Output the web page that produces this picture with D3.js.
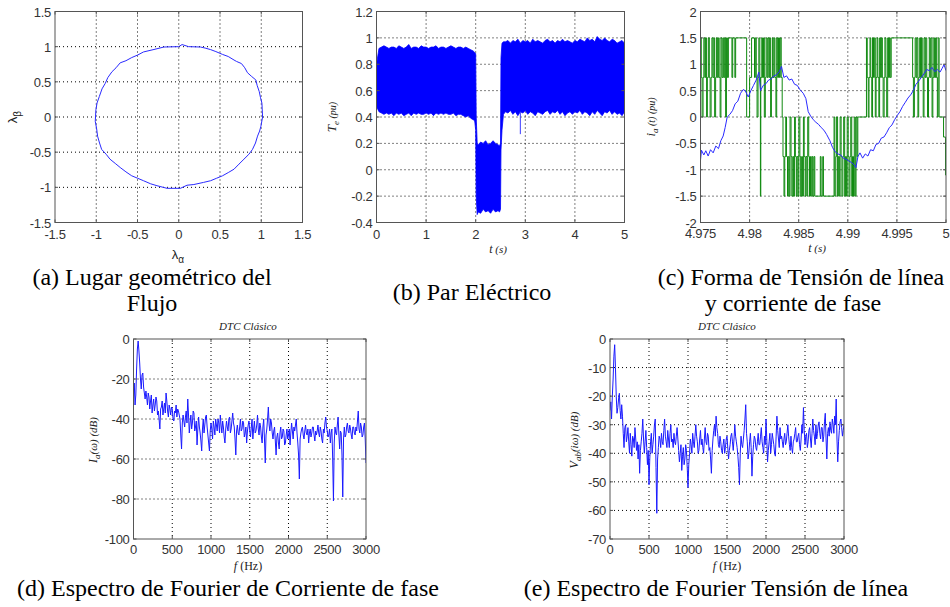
<!DOCTYPE html>
<html lang="es">
<head>
<meta charset="UTF-8">
<script src="https://cdn.jsdelivr.net/npm/d3@7"></script>
<style>
  body { margin: 0; background: #fff; }
  svg { display: block; }
  .tl { font: 13px Arial, "Liberation Sans", sans-serif; fill: #333; letter-spacing: -0.3px; }
  .cap { font: 24px "Times New Roman", "Liberation Serif", serif; fill: #000; }
  .lab { font: italic 12px "Times New Roman", "Liberation Serif", serif; fill: #222; }
  .ttl { font: italic 11px "Times New Roman", "Liberation Serif", serif; fill: #222; }
</style>
</head>
<body>
<script>
// ---------- (a) flux locus ----------
const fluxAlpha = [1.016, 1.012, 1.008, 0.99, 0.976, 0.95, 0.935, 0.88, 0.833, 0.80, 0.76, 0.70, 0.67, 0.60, 0.53, 0.45, 0.386, 0.32, 0.264, 0.12, 0.04, 0.0, -0.18, -0.30, -0.427, -0.50, -0.57, -0.64, -0.71, -0.76, -0.81, -0.86, -0.89, -0.93, -0.963, -0.99, -1.004, -1.012, -0.995, -0.984, -0.96, -0.935, -0.88, -0.833, -0.77, -0.71, -0.64, -0.57, -0.50, -0.427, -0.34, -0.264, -0.142, 0.02, 0.10, 0.183, 0.30, 0.386, 0.46, 0.53, 0.60, 0.67, 0.73, 0.79, 0.85, 0.894, 0.93, 0.955, 0.98, 0.996, 1.016];
const fluxBeta  = [0.0, 0.10, 0.197, 0.28, 0.36, 0.45, 0.526, 0.58, 0.63, 0.70, 0.76, 0.79, 0.81, 0.86, 0.89, 0.93, 0.958, 0.98, 0.995, 1.0, 1.03, 1.0, 0.995, 0.96, 0.925, 0.88, 0.845, 0.80, 0.77, 0.70, 0.643, 0.56, 0.48, 0.40, 0.29, 0.20, 0.103, -0.061, -0.17, -0.272, -0.37, -0.46, -0.53, -0.60, -0.66, -0.718, -0.78, -0.836, -0.87, -0.906, -0.95, -0.977, -1.014, -1.014, -0.97, -0.96, -0.93, -0.906, -0.87, -0.836, -0.79, -0.742, -0.67, -0.60, -0.53, -0.46, -0.37, -0.272, -0.20, -0.131, 0.0];

// ---------- (b) electric torque envelope ----------
const torqueT  = [0, 0.05, 0.1, 0.15, 0.2, 0.25, 0.3, 0.35, 0.4, 0.45, 0.5, 0.55, 0.6, 0.65, 0.7, 0.75, 0.8, 0.85, 0.9, 0.95, 1.0, 1.05, 1.1, 1.15, 1.2, 1.25, 1.3, 1.35, 1.4, 1.45, 1.5, 1.55, 1.6, 1.65, 1.7, 1.75, 1.8, 1.85, 1.9, 1.95,
  1.98, 2.0, 2.01, 2.03, 2.05, 2.1, 2.15, 2.2, 2.25, 2.3, 2.35, 2.4, 2.45, 2.48, 2.5, 2.51, 2.53, 2.56,
  2.6, 2.65, 2.7, 2.75, 2.8, 2.85, 2.9, 2.95, 3.0, 3.05, 3.1, 3.15, 3.2, 3.25, 3.3, 3.35, 3.4, 3.45, 3.5, 3.55, 3.6, 3.65, 3.7, 3.75, 3.8, 3.85, 3.9, 3.95, 4.0, 4.05, 4.1, 4.15, 4.2, 4.25, 4.3, 4.35, 4.4, 4.45, 4.5, 4.55, 4.6, 4.65, 4.7, 4.75, 4.8, 4.85, 4.9, 4.95, 5.0];
const torqueHi = [0.80, 0.92, 0.93, 0.94, 0.93, 0.92, 0.93, 0.93, 0.92, 0.94, 0.93, 0.92, 0.93, 0.95, 0.92, 0.93, 0.93, 0.92, 0.94, 0.93, 0.93, 0.92, 0.93, 0.93, 0.94, 0.92, 0.93, 0.93, 0.92, 0.93, 0.94, 0.93, 0.92, 0.93, 0.93, 0.92, 0.93, 0.92, 0.91, 0.90,
  0.89, 0.88, 0.40, 0.20, 0.19, 0.21, 0.20, 0.22, 0.19, 0.20, 0.22, 0.20, 0.19, 0.18, 0.20, 0.85, 0.96, 0.97,
  0.97, 0.98, 0.96, 0.98, 0.97, 0.99, 0.96, 0.98, 0.97, 0.98, 0.96, 0.99, 0.97, 0.98, 0.97, 0.96, 0.98, 0.99, 0.97, 0.98, 0.96, 0.98, 0.97, 0.99, 0.97, 0.98, 0.97, 0.96, 0.98, 0.97, 0.99, 0.98, 0.97, 1.0, 0.98, 0.99, 0.97, 1.01, 0.99, 0.98, 1.0, 0.98, 0.97, 0.99, 0.98, 0.96, 0.97, 0.98, 0.96];
const torqueLo = [0.48, 0.44, 0.43, 0.42, 0.43, 0.42, 0.43, 0.41, 0.43, 0.42, 0.43, 0.41, 0.42, 0.43, 0.41, 0.43, 0.42, 0.43, 0.42, 0.42, 0.43, 0.42, 0.43, 0.41, 0.43, 0.42, 0.43, 0.42, 0.43, 0.42, 0.42, 0.43, 0.41, 0.42, 0.42, 0.41, 0.40, 0.41, 0.39, 0.38,
  0.37, 0.30, -0.20, -0.34, -0.32, -0.33, -0.30, -0.32, -0.31, -0.33, -0.30, -0.32, -0.31, -0.32, -0.30, 0.15, 0.30, 0.42,
  0.44, 0.43, 0.45, 0.42, 0.44, 0.41, 0.44, 0.43, 0.45, 0.42, 0.44, 0.43, 0.41, 0.44, 0.43, 0.42, 0.44, 0.45, 0.42, 0.44, 0.43, 0.45, 0.42, 0.44, 0.41, 0.43, 0.44, 0.42, 0.44, 0.43, 0.45, 0.42, 0.44, 0.43, 0.41, 0.44, 0.42, 0.45, 0.43, 0.41, 0.44, 0.43, 0.45, 0.42, 0.44, 0.42, 0.43, 0.41, 0.44];
const torqueSpikeT = [2.9];
const torqueSpikeV = [0.27];

// ---------- (c) phase current and line voltage ----------
const curT = [4.975, 4.9751, 4.97534, 4.97554, 4.97578, 4.97602, 4.97629, 4.97656, 4.97683, 4.97707, 4.97731, 4.97751, 4.97772, 4.97799, 4.97826, 4.97853, 4.9788, 4.97908, 4.97935, 4.97955, 4.97986, 4.98013, 4.9804, 4.98067, 4.98094, 4.98111, 4.98139, 4.98166, 4.98193, 4.9822, 4.98247, 4.98274, 4.98302, 4.98325, 4.98349, 4.98376, 4.98403, 4.9843, 4.98458, 4.98485, 4.98512, 4.98546, 4.98573, 4.98597, 4.98621, 4.98648, 4.98675, 4.98702, 4.98729, 4.98757, 4.98784, 4.98818, 4.98845, 4.98872, 4.98899, 4.98927, 4.98954, 4.98981, 4.99008, 4.99035, 4.99062, 4.99083, 4.99103, 4.99124, 4.99151, 4.99178, 4.99205, 4.99232, 4.9926, 4.99287, 4.99314, 4.99341, 4.99368, 4.99395, 4.99423, 4.9945, 4.99477, 4.99504, 4.99531, 4.99558, 4.99586, 4.99613, 4.9964, 4.99667, 4.99694, 4.99721, 4.99749, 4.99776, 4.99803, 4.9983, 4.99857, 4.99885, 4.99912, 4.99939, 4.9996, 4.9998, 5.0];
const curV = [-0.82, -0.63, -0.72, -0.64, -0.74, -0.62, -0.68, -0.55, -0.6, -0.45, -0.36, -0.2, 0.0, 0.05, 0.12, 0.25, 0.3, 0.45, 0.52, 0.5, 0.38, 0.5, 0.6, 0.7, 0.85, 0.5, 0.6, 0.63, 0.7, 0.72, 0.78, 0.8, 0.86, 0.96, 0.75, 0.78, 0.7, 0.72, 0.62, 0.6, 0.52, 0.45, 0.35, 0.1, 0.02, -0.05, -0.1, -0.14, -0.2, -0.25, -0.33, -0.45, -0.58, -0.66, -0.7, -0.72, -0.78, -0.8, -0.83, -0.86, -0.9, -0.96, -0.75, -0.68, -0.78, -0.7, -0.74, -0.62, -0.64, -0.52, -0.5, -0.4, -0.38, -0.3, -0.2, -0.15, -0.05, 0.03, 0.1, 0.2, 0.28, 0.36, 0.42, 0.5, 0.62, 0.68, 0.75, 0.82, 0.9, 0.88, 0.94, 0.86, 0.9, 0.85, 0.92, 0.99, 0.88];
const voltT = [4.975, 4.97508, 4.97516, 4.97526, 4.97534, 4.97544, 4.97552, 4.97562, 4.9757, 4.9758, 4.9759, 4.97598, 4.97608, 4.97616, 4.97626, 4.97636, 4.97644, 4.97654, 4.97662, 4.97672, 4.97682, 4.9769, 4.977, 4.97708, 4.97718, 4.97728, 4.97736, 4.97746, 4.97756, 4.97764, 4.97774, 4.97784,
  4.9782, 4.97828, 4.9785, 4.97858, 4.9797, 4.98, 4.9802,
  4.9805, 4.98058, 4.98068, 4.98076, 4.98086, 4.98094, 4.98104, 4.9811, 4.98114, 4.98124, 4.98132, 4.98142, 4.9815, 4.9816, 4.98168, 4.98178, 4.98186, 4.98196, 4.98204, 4.98214, 4.98222, 4.98232, 4.9824, 4.9825, 4.98258, 4.98268, 4.98276, 4.98286, 4.98294, 4.98304, 4.98312, 4.98322,
  4.98332, 4.9834, 4.9835, 4.98358, 4.98368, 4.98376, 4.98386, 4.98394, 4.98404, 4.98412, 4.98422, 4.9843, 4.9844, 4.98448, 4.98458, 4.98466, 4.98476, 4.98484, 4.98494, 4.98502, 4.98512, 4.9852, 4.9853, 4.98538, 4.98548, 4.98556, 4.98566, 4.98574, 4.98584, 4.98592, 4.98602, 4.9861, 4.9862, 4.98628, 4.98638, 4.98646, 4.98656, 4.98664,
  4.9872, 4.98728, 4.98745, 4.98752,
  4.9886, 4.98868, 4.98878, 4.98886, 4.98896, 4.98904, 4.98914, 4.98922, 4.98932, 4.9894, 4.9895, 4.98958, 4.98968, 4.98976, 4.98986, 4.98994, 4.99004, 4.99012, 4.99022, 4.9903, 4.9904, 4.99048, 4.99058, 4.99066, 4.99076, 4.99084, 4.99094, 4.99102,
  4.9919, 4.99198, 4.99208, 4.99216, 4.99226, 4.99234, 4.99244, 4.99252, 4.99262, 4.9927, 4.9928, 4.99288, 4.99298, 4.99306, 4.99316, 4.99324, 4.99334, 4.99342, 4.99352, 4.9936, 4.9937, 4.99378, 4.99388, 4.99396, 4.99406, 4.99414, 4.99424, 4.99432, 4.99442,
  4.9966, 4.99668, 4.99678, 4.99686, 4.99696, 4.99704, 4.99714, 4.99722, 4.99732, 4.9974, 4.9975, 4.99758, 4.99768, 4.99776, 4.99786, 4.99794, 4.99804, 4.99812, 4.99822, 4.9983, 4.9984, 4.99848, 4.99858, 4.99866, 4.99876, 4.99884, 4.99894, 4.99902, 4.99912, 4.9992, 4.9993,
  4.99975, 4.99995, 5.0];
const voltV = [1.5, 0.75, 0, 0.75, 1.5, 0.75, 1.5, 0, 0.75, 1.5, 0.75, 0, 0.75, 1.5, 0.75, 1.5, 0, 0.75, 1.5, 0.75, 1.5, 0.75, 0, 1.5, 0.75, 1.5, 0.75, 1.5, 0, 1.5, 0.75, 1.5,
  0.75, 1.5, 0.75, 1.5, 0, 0.75, 1.5,
  0.75, 1.5, 0.75, 0, 0.75, 1.5, 0.75, -1.5, 0.75, 1.5, 0.75, 1.5, 0, 0.75, 1.5, 0.75, 1.5, 0.75, 1.5, 0, 0.75, 1.5, 0.75, 1.5, 0.75, 0, 1.5, 0.75, 1.5, 0.75, 1.5, 0.75,
  0, -0.75, -1.5, -0.75, 0, -0.75, -1.5, -0.75, -1.5, 0, -0.75, -1.5, -0.75, -1.5, 0, -0.75, -1.5, -0.75, -1.5, 0, -0.75, -1.5, -0.75, -1.5, 0, -0.75, -1.5, -0.75, -1.5, 0, -0.75, -1.5, -0.75, -1.5, -0.75, -1.5, -0.75, -1.5,
  -0.75, -1.5, -0.75, -1.5,
  0, -1.5, -0.75, 0, -1.5, -0.75, -1.5, 0, -0.75, -1.5, -0.75, 0, -1.5, -0.75, -1.5, 0, -0.75, -1.5, -0.75, 0, -1.5, -0.75, -1.5, 0, -1.5, 0, -0.75, 0,
  1.5, 0.75, 0, 0.75, 1.5, 0.75, 0, 1.5, 0.75, 1.5, 0, 0.75, 1.5, 0.75, 0, 1.5, 0.75, 1.5, 0.75, 0, 0.75, 1.5, 0.75, 0, 1.5, 0.75, 1.5, 0.75, 1.5,
  0.75, 0, 0.75, 1.5, 0.75, 1.5, 0, 0.75, 1.5, 0.75, 1.5, 0.75, 0, 1.5, 0.75, 1.5, 0.75, 0, 0.75, 1.5, 0.75, 1.5, 0, 0.75, 1.5, 0.75, 1.5, 0.75, 0, 1.5, 0,
  -0.38, -1.1, -1.1];

// ---------- (d), (e) Fourier spectra, 10 Hz bins from 0 to 3000 Hz ----------
const specCurrent = [
  -30, -22, -33, -28, -15, -5, -1, -6, -12, -20, -25, -18, -17, -24, -27, -30, -26, -29, -33, -27, -29, -35, -31, -28, -37, -33, -30, -36, -33, -29, -31, -38, -36, -40, -45, -35, -34, -31, -38, -35,
  -32, -37, -27, -31, -36, -39, -33, -35, -38, -34, -35, -40, -41, -36, -37, -33, -39, -35, -36, -38, -40, -48, -55, -42, -38, -41, -44, -39, -36, -42, -30, -38, -47, -42, -38, -45, -42, -36, -37, -46,
  -44, -41, -53, -45, -39, -44, -47, -51, -56, -45, -40, -47, -43, -39, -38, -44, -48, -52, -56, -46, -42, -45, -50, -41, -44, -48, -40, -43, -46, -40, -42, -47, -38, -43, -47, -41, -44, -49, -52, -45,
  -41, -44, -46, -40, -39, -47, -45, -41, -37, -42, -44, -50, -58, -46, -43, -47, -48, -44, -40, -46, -45, -41, -42, -49, -47, -44, -52, -46, -43, -41, -46, -49, -44, -40, -50, -45, -41, -47, -46, -43,
  -38, -45, -48, -42, -44, -49, -52, -44, -40, -50, -62, -48, -45, -40, -34, -43, -46, -40, -42, -47, -50, -46, -44, -51, -58, -49, -47, -52, -55, -47, -44, -50, -49, -45, -46, -53, -52, -48, -45, -50,
  -48, -45, -53, -47, -42, -46, -50, -44, -46, -43, -40, -47, -52, -58, -70, -50, -47, -45, -44, -48, -50, -46, -43, -47, -48, -45, -52, -47, -45, -49, -47, -44, -44, -48, -51, -46, -48, -46, -43, -47,
  -49, -44, -46, -50, -52, -45, -47, -42, -39, -44, -46, -49, -48, -45, -52, -47, -45, -60, -81, -52, -44, -47, -48, -43, -39, -48, -55, -46, -47, -58, -79, -50, -44, -49, -48, -44, -42, -46, -47, -43,
  -45, -48, -50, -44, -44, -47, -48, -44, -46, -41, -36, -45, -47, -42, -44, -49, -48, -44, -42, -50, -62];
const specVoltage = [
  -25, -22, -28, -20, -14, -6, -2, -10, -20, -26, -24, -21, -19, -25, -28, -23, -27, -33, -38, -31, -30, -36, -34, -31, -36, -40, -33, -37, -41, -34, -35, -38, -31, -35, -39, -36, -42, -37, -47, -39,
  -36, -33, -28, -35, -40, -36, -32, -38, -44, -39, -51, -42, -36, -33, -40, -37, -34, -30, -28, -45, -61, -42, -38, -34, -35, -38, -33, -36, -37, -32, -28, -34, -36, -38, -32, -35, -38, -33, -30, -36,
  -35, -38, -33, -36, -37, -34, -31, -35, -39, -43, -40, -37, -46, -41, -38, -44, -42, -37, -39, -45, -52, -44, -40, -35, -37, -40, -33, -36, -38, -34, -30, -34, -36, -40, -39, -35, -32, -37, -35, -38,
  -40, -35, -31, -36, -37, -33, -34, -39, -38, -42, -47, -39, -35, -32, -30, -34, -27, -31, -33, -37, -38, -34, -36, -39, -40, -37, -35, -40, -38, -35, -34, -38, -42, -39, -37, -34, -33, -36, -39, -35,
  -30, -34, -36, -38, -41, -45, -51, -40, -34, -37, -38, -35, -32, -28, -23, -33, -36, -42, -40, -36, -33, -38, -48, -41, -37, -34, -35, -38, -39, -36, -33, -37, -37, -34, -31, -36, -38, -40, -34, -37,
  -28, -35, -43, -39, -36, -33, -40, -37, -33, -35, -37, -40, -41, -34, -27, -32, -35, -38, -31, -35, -34, -36, -38, -35, -33, -37, -36, -33, -30, -34, -37, -39, -34, -38, -40, -36, -35, -33, -31, -36,
  -36, -34, -33, -37, -39, -35, -30, -33, -24, -32, -37, -34, -33, -38, -36, -32, -31, -35, -38, -33, -28, -32, -34, -37, -30, -35, -33, -30, -29, -33, -35, -31, -31, -36, -34, -29, -26, -35, -42, -33,
  -31, -34, -29, -32, -33, -28, -30, -33, -27, -30, -21, -35, -43, -36, -32, -29, -28, -31, -34, -32, -30];

// tick labels
const ticksA = [-1.5, -1, -0.5, 0, 0.5, 1, 1.5];
const ticksBx = [0, 1, 2, 3, 4, 5];
const ticksBy = [-0.4, -0.2, 0, 0.2, 0.4, 0.6, 0.8, 1, 1.2];
const ticksCx = [4.975, 4.98, 4.985, 4.99, 4.995, 5];
const ticksCy = [-2, -1.5, -1, -0.5, 0, 0.5, 1, 1.5, 2];
const ticksF = [0, 500, 1000, 1500, 2000, 2500, 3000];
const ticksDy = [-100, -80, -60, -40, -20, 0];
const ticksEy = [-70, -60, -50, -40, -30, -20, -10, 0];

const svg = d3.select("body").append("svg").attr("width", 950).attr("height", 607);
const defs = svg.append("defs");
let clipId = 0;

function makePanel(box, xDom, yDom, xTicks, yTicks, xLabOff) {
  const g = svg.append("g");
  const x = d3.scaleLinear().domain(xDom).range([box.x0, box.x1]);
  const y = d3.scaleLinear().domain(yDom).range([box.y1, box.y0]);

  // dotted grid
  g.selectAll(".gx").data(xTicks.slice(1, -1)).enter().append("line")
    .attr("x1", d => x(d)).attr("x2", d => x(d))
    .attr("y1", box.y0).attr("y2", box.y1)
    .attr("stroke", "#000").attr("stroke-width", 1).attr("stroke-dasharray", "1,3");
  g.selectAll(".gy").data(yTicks.slice(1, -1)).enter().append("line")
    .attr("y1", d => y(d)).attr("y2", d => y(d))
    .attr("x1", box.x0).attr("x2", box.x1)
    .attr("stroke", "#000").attr("stroke-width", 1).attr("stroke-dasharray", "1,3");

  // tick labels
  g.selectAll(".lx").data(xTicks).enter().append("text")
    .attr("class", "tl").attr("x", d => x(d)).attr("y", box.y1 + (xLabOff || 16))
    .attr("text-anchor", "middle").text(d => String(d));
  g.selectAll(".ly").data(yTicks).enter().append("text")
    .attr("class", "tl").attr("x", box.x0 - 4).attr("y", d => y(d) + 5)
    .attr("text-anchor", "end").text(d => String(d));

  const id = "clip" + (clipId++);
  defs.append("clipPath").attr("id", id).append("rect")
    .attr("x", box.x0).attr("y", box.y0)
    .attr("width", box.x1 - box.x0).attr("height", box.y1 - box.y0);
  const plot = g.append("g").attr("clip-path", `url(#${id})`);

  // box and small inward ticks, drawn on top of the data
  const frame = () => {
    const fr = svg.append("g");
    fr.append("rect").attr("x", box.x0).attr("y", box.y0)
      .attr("width", box.x1 - box.x0).attr("height", box.y1 - box.y0)
      .attr("fill", "none").attr("stroke", "#555").attr("stroke-width", 1);
    xTicks.forEach(t => {
      fr.append("line").attr("x1", x(t)).attr("x2", x(t)).attr("y1", box.y1).attr("y2", box.y1 - 3).attr("stroke", "#555");
      fr.append("line").attr("x1", x(t)).attr("x2", x(t)).attr("y1", box.y0).attr("y2", box.y0 + 3).attr("stroke", "#555");
    });
    yTicks.forEach(t => {
      fr.append("line").attr("y1", y(t)).attr("y2", y(t)).attr("x1", box.x0).attr("x2", box.x0 + 3).attr("stroke", "#555");
      fr.append("line").attr("y1", y(t)).attr("y2", y(t)).attr("x1", box.x1).attr("x2", box.x1 - 3).attr("stroke", "#555");
    });
  };
  return { g, plot, x, y, frame, box };
}

function addParts(t, parts) {
  parts.forEach(p => {
    const s = t.append("tspan").text(p.s);
    if (p.dy) s.attr("dy", p.dy);
    if (p.size) s.attr("font-size", p.size);
    if (p.style) s.attr("font-style", p.style);
    if (p.family) s.attr("font-family", p.family);
  });
  return t;
}
function rotLabel(cx, cy, parts) {
  const t = svg.append("text").attr("class", "lab")
    .attr("transform", `translate(${cx},${cy}) rotate(-90)`).attr("text-anchor", "middle");
  return addParts(t, parts);
}
function hLabel(cx, cy, parts, cls) {
  const t = svg.append("text").attr("class", cls || "lab").attr("x", cx).attr("y", cy).attr("text-anchor", "middle");
  return addParts(t, parts);
}
function caption(cx, cy, str) {
  svg.append("text").attr("class", "cap").attr("x", cx).attr("y", cy)
    .attr("text-anchor", "middle").text(str);
}
const sans = "Arial, 'Liberation Sans', sans-serif";

// ===== (a) =====
const pa = makePanel({ x0: 55, x1: 302.5, y0: 11.5, y1: 222.5 }, [-1.5, 1.5], [-1.5, 1.5], ticksA, ticksA);
pa.plot.append("path")
  .datum(d3.range(fluxAlpha.length))
  .attr("d", d3.line().x(i => pa.x(fluxAlpha[i])).y(i => pa.y(fluxBeta[i])))
  .attr("fill", "none").attr("stroke", "#2a2aff").attr("stroke-width", 1);
pa.frame();
hLabel(178, 259, [{ s: "λ", style: "normal", family: sans, size: 13 }, { s: "α", dy: 4, size: 10, style: "normal", family: sans }]);
rotLabel(17, 117, [{ s: "λ", style: "normal", family: sans, size: 13 }, { s: "β", dy: 4, size: 10, style: "normal", family: sans }]);
caption(152, 285, "(a) Lugar geométrico del");
caption(152, 311, "Flujo");

// ===== (b) =====
const pb = makePanel({ x0: 376.5, x1: 624.5, y0: 11.5, y1: 222.5 }, [0, 5], [-0.4, 1.2], ticksBx, ticksBy);
pb.plot.append("path")
  .datum(d3.range(torqueT.length))
  .attr("d", d3.area().x(i => pb.x(torqueT[i])).y0(i => pb.y(torqueLo[i])).y1(i => pb.y(torqueHi[i])))
  .attr("fill", "#0000ff").attr("stroke", "#0000ff").attr("stroke-width", 0.8);
pb.plot.selectAll(".spk").data(torqueSpikeT).enter().append("line")
  .attr("x1", d => pb.x(d)).attr("x2", d => pb.x(d))
  .attr("y1", pb.y(0.44)).attr("y2", (d, i) => pb.y(torqueSpikeV[i]))
  .attr("stroke", "#3a3aff").attr("stroke-width", 1);
pb.frame();
hLabel(498, 253, [{ s: "t" }, { s: " (s)", size: 11 }]);
rotLabel(336, 117, [{ s: "T", size: 13 }, { s: "e", dy: 3, size: 9 }, { s: " (pu)", dy: -3, size: 10 }]);
caption(472, 300, "(b) Par Eléctrico");

// ===== (c) =====
const pc = makePanel({ x0: 700.5, x1: 946, y0: 11.5, y1: 222.5 }, [4.975, 5], [-2, 2], ticksCx, ticksCy, 15);
pc.plot.append("path")
  .datum(d3.range(voltT.length))
  .attr("d", d3.line().curve(d3.curveStepAfter).x(i => pc.x(voltT[i])).y(i => pc.y(voltV[i])))
  .attr("fill", "none").attr("stroke", "#108a10").attr("stroke-width", 1);
pc.plot.append("path")
  .datum(d3.range(curT.length))
  .attr("d", d3.line().x(i => pc.x(curT[i])).y(i => pc.y(curV[i])))
  .attr("fill", "none").attr("stroke", "#2a2aff").attr("stroke-width", 1);
pc.frame();
hLabel(817, 252, [{ s: "t" }, { s: " (s)", size: 11 }]);
rotLabel(655, 117, [{ s: "i", size: 13 }, { s: "a", dy: 3, size: 9 }, { s: " (t) (pu)", dy: -3, size: 10 }]);
caption(801, 285, "(c) Forma de Tensión de línea");
caption(793, 311, "y corriente de fase");

// ===== (d) =====
const freqs = d3.range(0, 3001, 10);
const pd = makePanel({ x0: 133.5, x1: 366, y0: 339, y1: 539 }, [0, 3000], [-100, 0], ticksF, ticksDy, 15);
pd.plot.append("path")
  .datum(d3.range(specCurrent.length))
  .attr("d", d3.line().x(i => pd.x(freqs[i])).y(i => pd.y(specCurrent[i])))
  .attr("fill", "none").attr("stroke", "#1a1aff").attr("stroke-width", 1);
pd.frame();
hLabel(248, 330, [{ s: "DTC Clásico" }], "ttl");
hLabel(248, 570, [{ s: "f" }, { s: " (Hz)", style: "normal" }]);
rotLabel(97, 440, [{ s: "I", size: 12 }, { s: "a", dy: 3, size: 9 }, { s: "(ω) (dB)", dy: -3, size: 11 }]);
caption(228, 596, "(d) Espectro de Fourier de Corriente de fase");

// ===== (e) =====
const pe = makePanel({ x0: 610, x1: 844, y0: 339, y1: 539 }, [0, 3000], [-70, 0], ticksF, ticksEy, 15);
pe.plot.append("path")
  .datum(d3.range(specVoltage.length))
  .attr("d", d3.line().x(i => pe.x(freqs[i])).y(i => pe.y(specVoltage[i])))
  .attr("fill", "none").attr("stroke", "#1a1aff").attr("stroke-width", 1);
pe.frame();
hLabel(727, 330, [{ s: "DTC Clásico" }], "ttl");
hLabel(727, 570, [{ s: "f" }, { s: " (Hz)", style: "normal" }]);
rotLabel(578, 440, [{ s: "V", size: 12 }, { s: "ab", dy: 3, size: 9 }, { s: "(iω) (dB)", dy: -3, size: 11 }]);
caption(716, 596, "(e) Espectro de Fourier Tensión de línea");
</script>
</body>
</html>
